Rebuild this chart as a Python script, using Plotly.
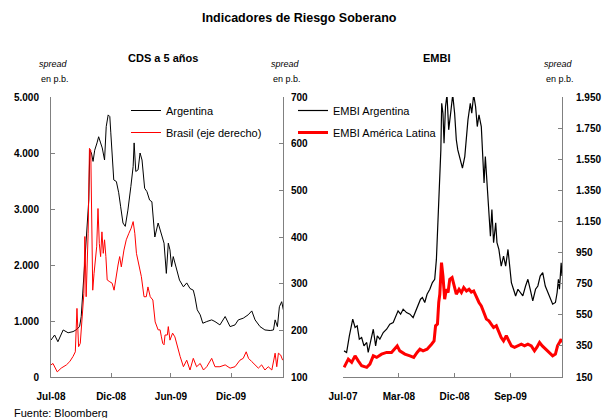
import plotly.graph_objects as go

# ---------------- data ----------------
arg_cds_dates = ["2008-06-20","2008-07-01","2008-07-11","2008-07-27","2008-08-11","2008-08-26","2008-09-04","2008-09-15","2008-09-20","2008-09-25",
    "2008-10-02","2008-10-08","2008-10-13","2008-10-16","2008-10-21","2008-10-26","2008-10-31","2008-11-07","2008-11-12","2008-11-18",
    "2008-11-23","2008-11-30","2008-12-05","2008-12-11","2008-12-16","2008-12-19","2008-12-23","2008-12-28","2009-01-05","2009-01-12",
    "2009-01-18","2009-01-25","2009-02-01","2009-02-09","2009-02-18","2009-02-25","2009-02-28","2009-03-05","2009-03-12","2009-03-18",
    "2009-03-24","2009-04-01","2009-04-08","2009-04-16","2009-04-23","2009-05-02","2009-05-12","2009-05-22","2009-05-30","2009-06-06",
    "2009-06-12","2009-06-17","2009-06-22","2009-06-27","2009-07-06","2009-07-16","2009-07-28","2009-08-07","2009-08-17","2009-08-27",
    "2009-09-01","2009-09-08","2009-09-17","2009-09-25","2009-10-07","2009-10-22","2009-11-01","2009-11-16","2009-12-02","2009-12-17",
    "2010-01-01","2010-01-11","2010-01-26","2010-02-10","2010-02-21","2010-03-03","2010-03-18","2010-04-02","2010-04-18","2010-04-28",
    "2010-05-03","2010-05-10","2010-05-16","2010-05-23","2010-05-28"]
arg_cds_vals = [660,750,630,840,790,810,840,900,1080,1500,
    2270,2750,3160,4050,4000,3850,4050,4180,4290,4180,
    4090,3875,4470,4680,4650,4360,3875,3520,3490,3290,
    3040,2750,2690,2980,3400,3760,4180,3670,3700,4000,
    3875,3370,3310,3160,3130,2500,2750,2570,2390,1850,
    2390,2270,1970,2150,1970,1730,1610,1680,1580,1550,
    1430,1200,1110,960,990,1020,990,930,1080,900,
    930,1020,1050,1110,1180,1020,900,840,830,840,
    1020,900,1255,1345,1200]

bra_cds_dates = ["2008-06-20","2008-06-26","2008-07-09","2008-07-21","2008-08-06","2008-08-16","2008-08-26","2008-09-02","2008-09-07","2008-09-12",
    "2008-09-17","2008-09-22","2008-09-28","2008-10-01","2008-10-05","2008-10-11","2008-10-15","2008-10-19","2008-10-22","2008-10-25",
    "2008-10-29","2008-11-02","2008-11-06","2008-11-10","2008-11-14","2008-11-18","2008-11-22","2008-11-26","2008-11-30","2008-12-04",
    "2008-12-08","2008-12-16","2008-12-23","2008-12-29","2009-01-05","2009-01-10","2009-01-15","2009-01-20","2009-01-28","2009-02-04",
    "2009-02-12","2009-02-19","2009-02-25","2009-03-02","2009-03-07","2009-03-14","2009-03-22","2009-03-30","2009-04-06","2009-04-11",
    "2009-04-18","2009-04-26","2009-05-03","2009-05-12","2009-05-18","2009-05-22","2009-05-26","2009-05-30","2009-06-02","2009-06-09",
    "2009-06-12","2009-06-17","2009-06-25","2009-07-02","2009-07-09","2009-07-18","2009-07-28","2009-08-07","2009-08-17","2009-08-27",
    "2009-09-06","2009-09-17","2009-09-27","2009-10-07","2009-10-22","2009-11-01","2009-11-16","2009-12-02","2009-12-17","2010-01-01",
    "2010-01-16","2010-01-26","2010-02-04","2010-02-11","2010-02-21","2010-03-03","2010-03-13","2010-03-23","2010-04-02","2010-04-12",
    "2010-04-23","2010-05-03","2010-05-08","2010-05-13","2010-05-20","2010-05-26"]
bra_cds_vals = [126,129,111,119,126,133,144,154,247,165,
    172,229,279,401,272,408,590,586,451,286,
    322,358,379,461,386,358,411,365,394,358,
    308,304,301,286,322,340,358,336,372,394,
    408,419,433,408,365,344,315,272,272,293,
    272,265,218,201,201,186,172,169,190,190,
    208,179,194,186,165,144,122,136,115,140,
    122,129,115,122,140,122,122,126,119,122,
    136,140,154,140,133,126,119,126,115,122,
    115,151,122,151,147,136]

embi_arg_dates = ["2007-07-06","2007-07-18","2007-07-31","2007-08-16","2007-08-27","2007-09-06","2007-09-16","2007-09-27","2007-10-08","2007-10-21",
    "2007-10-28","2007-11-08","2007-11-21","2007-12-02","2007-12-10","2007-12-22","2008-01-07","2008-01-23","2008-02-07","2008-02-23",
    "2008-03-07","2008-03-17","2008-03-29","2008-04-10","2008-04-26","2008-05-12","2008-05-27","2008-06-09","2008-06-20","2008-07-01",
    "2008-07-10","2008-07-21","2008-08-01","2008-08-14","2008-08-26","2008-09-06","2008-09-14","2008-09-19","2008-09-25","2008-09-30",
    "2008-10-05","2008-10-09","2008-10-15","2008-10-20","2008-10-27","2008-11-03","2008-11-11","2008-11-22","2008-11-30","2008-12-09",
    "2008-12-17","2008-12-24","2009-01-02","2009-01-15","2009-01-26","2009-02-03","2009-02-10","2009-02-21","2009-02-28","2009-03-09",
    "2009-03-18","2009-03-26","2009-04-03","2009-04-14","2009-04-22","2009-04-27","2009-05-03","2009-05-11","2009-05-20","2009-05-27",
    "2009-06-03","2009-06-11","2009-06-21","2009-06-27","2009-07-06","2009-07-17","2009-07-28","2009-08-07","2009-08-18","2009-08-26",
    "2009-09-03","2009-09-13","2009-09-23","2009-10-04","2009-10-15","2009-10-27","2009-11-09","2009-11-20","2009-12-01","2009-12-13",
    "2009-12-26","2010-01-06","2010-01-17","2010-01-29","2010-02-10","2010-02-22","2010-03-05","2010-03-17","2010-03-30","2010-04-07",
    "2010-04-13","2010-04-18","2010-04-26","2010-04-30"]
embi_arg_vals = [318,308,415,522,468,479,393,404,350,372,
    308,372,457,350,415,393,436,457,490,500,
    543,575,554,586,564,554,532,575,607,650,
    661,629,682,714,757,778,906,1077,1247,1375,
    1610,1910,1846,1653,1888,1965,1739,1867,1965,1846,
    1675,1610,1567,1493,1567,1717,1803,1910,1846,1965,
    1888,1760,1835,1760,1567,1397,1567,1375,1205,1055,
    1226,1013,1141,1013,970,863,927,863,970,842,
    757,714,671,714,693,671,735,778,714,639,
    714,735,799,821,735,693,650,618,629,693,
    778,714,885,799]

embi_lat_dates = ["2007-07-06","2007-07-26","2007-08-11","2007-08-27","2007-09-11","2007-09-27","2007-10-21","2007-11-05","2007-11-21","2007-12-07",
    "2007-12-30","2008-01-23","2008-02-15","2008-03-02","2008-03-13","2008-03-25","2008-04-18","2008-05-12","2008-05-30","2008-06-15",
    "2008-06-28","2008-07-13","2008-08-01","2008-08-22","2008-09-03","2008-09-10","2008-09-19","2008-09-25","2008-09-30","2008-10-08",
    "2008-10-15","2008-10-23","2008-10-31","2008-11-08","2008-11-16","2008-11-27","2008-12-05","2008-12-17","2008-12-30","2009-01-10",
    "2009-01-21","2009-02-03","2009-02-15","2009-02-26","2009-03-09","2009-03-22","2009-04-03","2009-04-14","2009-04-25","2009-05-08",
    "2009-05-20","2009-05-31","2009-06-11","2009-06-24","2009-07-06","2009-07-17","2009-07-28","2009-08-10","2009-08-22","2009-09-03",
    "2009-09-18","2009-10-04","2009-10-20","2009-11-04","2009-11-20","2009-12-06","2009-12-21","2010-01-01","2010-01-14","2010-01-27",
    "2010-02-11","2010-03-02","2010-03-17","2010-03-30","2010-04-09","2010-04-18","2010-04-26","2010-04-30"]
embi_lat_vals = [212,265,244,286,254,222,212,233,286,276,
    297,308,308,329,350,318,297,286,276,308,
    329,318,329,361,382,479,490,629,682,885,
    799,650,714,693,778,789,746,682,714,693,
    725,703,714,696,703,661,629,607,564,522,
    511,490,468,479,436,404,382,415,382,350,
    340,350,361,350,361,350,318,340,372,350,
    329,308,286,297,350,372,393,372]

cds_left_ticks = [0, 1000, 2000, 3000, 4000, 5000]
cds_left_text = ["0", "1.000", "2.000", "3.000", "4.000", "5.000"]
cds_right_ticks = [100, 200, 300, 400, 500, 600, 700]
cds_right_text = ["100", "200", "300", "400", "500", "600", "700"]
cds_x_ticks = ["2008-06-20", "2008-12-20", "2009-06-20", "2009-12-20"]
cds_x_text = ["Jul-08", "Dic-08", "Jun-09", "Dic-09"]
embi_ticks = [150, 350, 550, 750, 950, 1150, 1350, 1550, 1750, 1950]
embi_text = ["150", "350", "550", "750", "950", "1.150", "1.350", "1.550", "1.750", "1.950"]
embi_x_ticks = ["2007-07-01", "2008-03-21", "2008-12-09", "2009-08-30"]
embi_x_text = ["Jul-07", "Mar-08", "Dic-08", "Sep-09"]

# ---------------- layout helpers ----------------
W, H = 603, 418
def px(x): return x / W
def py(y): return 1 - y / H

FONT = "Liberation Sans, Arial, sans-serif"
AXC = "#808080"
tickfont = dict(family=FONT, size=10, color="black", weight="bold")

fig = go.Figure()
fig.add_trace(go.Scatter(x=arg_cds_dates, y=arg_cds_vals, mode="lines", name="Argentina",
                         line=dict(color="black", width=1), xaxis="x", yaxis="y",
                         legend="legend", legendgroup="a"))
fig.add_trace(go.Scatter(x=bra_cds_dates, y=bra_cds_vals, mode="lines", name="Brasil (eje derecho)",
                         line=dict(color="#ff0000", width=1), xaxis="x", yaxis="y2",
                         legend="legend", legendgroup="b"))
fig.add_trace(go.Scatter(x=embi_arg_dates, y=embi_arg_vals, mode="lines", name="EMBI Argentina",
                         line=dict(color="black", width=1.2), xaxis="x2", yaxis="y3",
                         legend="legend2", legendgroup="c"))
fig.add_trace(go.Scatter(x=embi_lat_dates, y=embi_lat_vals, mode="lines", name="EMBI América Latina",
                         line=dict(color="#ff0000", width=3), xaxis="x2", yaxis="y3",
                         legend="legend2", legendgroup="d"))

common_axis = dict(showgrid=False, zeroline=False, showline=True, linecolor=AXC, linewidth=1,
                   ticks="inside", ticklen=4, tickcolor=AXC, tickfont=tickfont, fixedrange=True,
                   automargin=False)
ydom = [py(377), py(97)]

fig.update_layout(
    template="none",
    width=W, height=H, margin=dict(l=0, r=0, t=0, b=0, pad=0, autoexpand=False),
    paper_bgcolor="white", plot_bgcolor="white",
    font=dict(family=FONT, color="black"),
    showlegend=True,
    xaxis=dict(domain=[px(51), px(283)], anchor="y", type="date",
               range=["2008-06-20", "2010-05-27"], tickmode="array",
               tickvals=cds_x_ticks, ticktext=cds_x_text, ticklabelstandoff=10, **common_axis),
    yaxis=dict(domain=ydom, anchor="x", range=[0, 5000], tickmode="array",
               tickvals=cds_left_ticks, ticktext=cds_left_text, ticklabelstandoff=9, **common_axis),
    yaxis2=dict(domain=ydom, anchor="x", overlaying="y", side="right", range=[100, 700],
                tickmode="array", tickvals=cds_right_ticks, ticktext=cds_right_text,
                ticklabelstandoff=5, **common_axis),
    xaxis2=dict(domain=[px(343), px(562)], anchor="y3", type="date",
                range=["2007-07-01", "2010-04-30"], tickmode="array",
                tickvals=embi_x_ticks, ticktext=embi_x_text, ticklabelstandoff=10, **common_axis),
    yaxis3=dict(domain=ydom, anchor="x2", side="right", range=[150, 1950], tickmode="array",
                tickvals=embi_ticks, ticktext=embi_text, ticklabelstandoff=11, **common_axis),
    legend=dict(x=px(126), y=py(96), xanchor="left", yanchor="top", bgcolor="rgba(0,0,0,0)",
                font=dict(family=FONT, size=11, color="black"), tracegroupgap=3, itemwidth=30),
    legend2=dict(x=px(293), y=py(96), xanchor="left", yanchor="top", bgcolor="rgba(0,0,0,0)",
                 font=dict(family=FONT, size=11, color="black"), tracegroupgap=3, itemwidth=30),
)

def note(text, x, y, size=11, bold=False, italic=False, xanchor="center"):
    fig.add_annotation(text=text, x=px(x), y=py(y), xref="paper", yref="paper",
                       xanchor=xanchor, yanchor="middle", showarrow=False,
                       font=dict(family=FONT, size=size, color="black",
                                 weight="bold" if bold else "normal",
                                 style="italic" if italic else "normal"))

note("Indicadores de Riesgo Soberano", 299, 18, size=12.5, bold=True)
note("CDS a 5 años", 163, 58, size=11, bold=True)
note("EMBI", 437, 58, size=11, bold=True)
for cx in (53, 285, 558):
    note("spread", cx, 64, size=9, italic=True)
    note("en p.b.", cx + 2, 79, size=9)
note("Fuente: Bloomberg", 12, 413, size=11, xanchor="left")

# remove the browser's default 8px page margin so the 603x418 figure fills the window
fig.write_html("out.html", config={"displayModeBar": False},
               post_script="document.body.style.margin='0px';")
